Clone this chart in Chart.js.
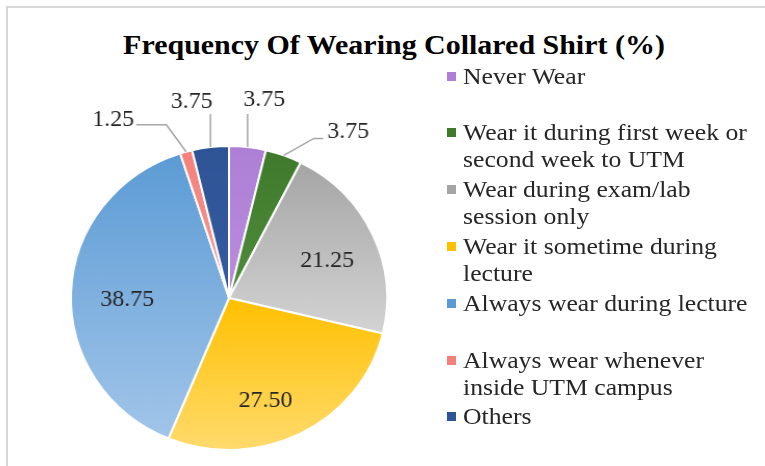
<!DOCTYPE html>
<html lang="en">
<head>
  <meta charset="UTF-8" />
  <title>Frequency Of Wearing Collared Shirt</title>
  <script src="https://cdn.jsdelivr.net/npm/chart.js@4"></script>
  <style>
    html, body { margin: 0; padding: 0; background: #fff; }
    body { width: 765px; height: 466px; position: relative; overflow: hidden; font-family: "Liberation Serif", "Times New Roman", serif; }
    #frame { position: absolute; left: 6px; top: 6px; width: 800px; height: 500px; border-left: 2px solid #d6d6d6; border-top: 2px solid #d6d6d6; }
    #title { position: absolute; left: 0; top: 29px; width: 788px; text-align: center; font-weight: bold; font-size: 28px; line-height: 32px; color: #000; transform: scaleX(1.07); transform-origin: 394px 0; }
    #chartbox { position: absolute; left: 0; top: 0; width: 765px; height: 466px; transform: scaleX(1.04); transform-origin: 229px 0; }
    .item { position: absolute; left: 447px; width: 300px; }
    .item .box { position: absolute; left: 0; top: 9px; width: 9px; height: 9px; }
    .item .txt { margin-left: 16px; font-size: 24px; line-height: 27px; color: #262626; white-space: nowrap; transform: scaleX(1.07); transform-origin: 0 0; }
  </style>
</head>
<body>
  <div id="frame"></div>
  <div id="title">Frequency Of Wearing Collared Shirt (%)</div>
  <div id="chartbox">
    <canvas id="chart" width="765" height="466"></canvas>
  </div>
  <div id="legend"></div>

  <script>
    const categories = [
      'Never Wear',
      'Wear it during first week or second week to UTM',
      'Wear during exam/lab session only',
      'Wear it sometime during lecture',
      'Always wear during lecture',
      'Always wear whenever inside UTM campus',
      'Others'
    ];
    const values = [3.75, 3.75, 21.25, 27.50, 38.75, 1.25, 3.75];

    // how the legend wraps each category (words on the first line)
    const firstLineWords = [2, 6, 3, 4, 4, 3, 1];

    // top / bottom colours of each slice's gradient
    const topColors = ['#ad7fd6', '#3f7a2c', '#a5a5a5', '#ffc000', '#5b9bd5', '#f4807a', '#2f5496'];
    const bottomColors = ['#b98ddd', '#4f8c3a', '#d3d3d3', '#ffdb6e', '#a2c5e9', '#f59a95', '#345ca0'];

    // leader lines for the small slices, relative to the slice's outer edge
    const callouts = {
      0: { path: [[0, -33]], text: [16, -47], align: 'center' },
      1: { path: [[29, -17], [38, -17]], text: [42, -23], align: 'left' },
      5: { path: [[-19, -27], [-48, -27]], text: [-50, -32], align: 'right' },
      6: { path: [[0, -33]], text: [-18, -45], align: 'center' }
    };
    // small nudges for the labels inside the big slices
    const insideShift = { 2: [2, 6], 3: [-11, 12], 4: [4, 6] };

    // legend
    const legend = document.getElementById('legend');
    categories.forEach((c, i) => {
      const words = c.split(' ');
      const div = document.createElement('div');
      div.className = 'item';
      div.style.top = (62.5 + i * 56.8) + 'px';
      div.innerHTML = '<span class="box" style="background:' + topColors[i] + '"></span><div class="txt"></div>';
      const txt = div.querySelector('.txt');
      txt.appendChild(document.createTextNode(words.slice(0, firstLineWords[i]).join(' ')));
      if (words.length > firstLineWords[i]) {
        txt.appendChild(document.createElement('br'));
        txt.appendChild(document.createTextNode(words.slice(firstLineWords[i]).join(' ')));
      }
      legend.appendChild(div);
    });

    const total = values.reduce((a, b) => a + b, 0);

    function sliceGradient(context) {
      const chart = context.chart;
      const area = chart.chartArea;
      const i = context.dataIndex;
      if (!area) return topColors[i];
      const cy = (area.top + area.bottom) / 2;
      const r = Math.min(area.right - area.left, area.bottom - area.top) / 2;
      let before = 0;
      for (let k = 0; k < i; k++) before += values[k];
      const a0 = before / total * 360, a1 = (before + values[i]) / total * 360;
      const ys = [cy, cy - r * Math.cos(a0 * Math.PI / 180), cy - r * Math.cos(a1 * Math.PI / 180)];
      if (a0 <= 0 || a1 >= 360) ys.push(cy - r);
      if (a0 <= 180 && a1 >= 180) ys.push(cy + r);
      const y0 = Math.min(...ys), y1 = Math.max(...ys);
      const g = chart.ctx.createLinearGradient(0, y0, 0, y1 + 0.01);
      g.addColorStop(0, topColors[i]);
      g.addColorStop(1, bottomColors[i]);
      return g;
    }

    const labelPlugin = {
      id: 'sliceLabels',
      afterDatasetsDraw(chart) {
        const ctx = chart.ctx;
        const arcs = chart.getDatasetMeta(0).data;
        ctx.save();
        ctx.font = '23px "Liberation Serif"';
        ctx.fillStyle = '#262626';
        ctx.textBaseline = 'middle';
        arcs.forEach((arc, i) => {
          const p = arc.getProps(['x', 'y', 'startAngle', 'endAngle', 'outerRadius'], true);
          const mid = (p.startAngle + p.endAngle) / 2;
          const text = values[i].toFixed(2);
          const c = callouts[i];
          if (!c) {
            const r = p.outerRadius * 0.67;
            const s = insideShift[i] || [0, 0];
            ctx.textAlign = 'center';
            ctx.fillText(text, p.x + Math.cos(mid) * r + s[0], p.y + Math.sin(mid) * r + s[1]);
            return;
          }
          const ex = p.x + Math.cos(mid) * p.outerRadius;
          const ey = p.y + Math.sin(mid) * p.outerRadius;
          ctx.strokeStyle = '#a6a6a6';
          ctx.lineWidth = 1.5;
          ctx.beginPath();
          ctx.moveTo(ex, ey);
          c.path.forEach(([dx, dy]) => ctx.lineTo(ex + dx, ey + dy));
          ctx.stroke();
          ctx.textAlign = c.align;
          ctx.fillText(text, ex + c.text[0], ey + c.text[1]);
        });
        ctx.restore();
      }
    };

    const chart = new Chart(document.getElementById('chart'), {
      type: 'pie',
      data: {
        labels: categories,
        datasets: [{
          data: values,
          backgroundColor: sliceGradient,
          borderColor: '#ffffff',
          borderWidth: 2
        }]
      },
      options: {
        responsive: false,
        animation: false,
        layout: { padding: { left: 76, top: 145, right: 383, bottom: 15 } },
        plugins: {
          legend: { display: false },
          title: { display: false },
          tooltip: { enabled: false }
        }
      },
      plugins: [labelPlugin]
    });
  </script>
</body>
</html>
